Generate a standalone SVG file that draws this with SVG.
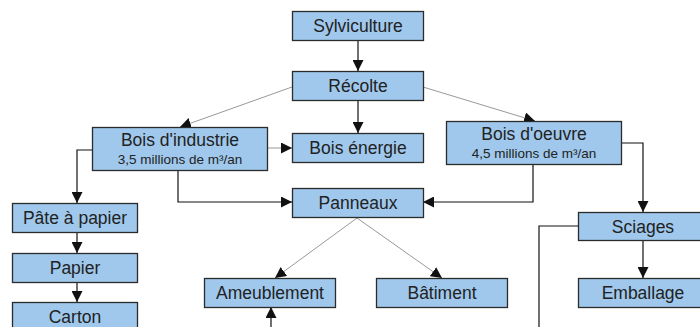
<svg xmlns="http://www.w3.org/2000/svg" width="700" height="327" viewBox="0 0 700 327">
<style>
.box{fill:#9fc8ec;stroke:#2b2b2b;stroke-width:1.3}
.t{font-family:"Liberation Sans",Arial,sans-serif;font-size:17.5px;fill:#222;text-anchor:middle}
.s{font-family:"Liberation Sans",Arial,sans-serif;font-size:13.5px;fill:#222;text-anchor:middle}
.k{fill:none;stroke:#111;stroke-width:1.2}
.g{fill:none;stroke:#999;stroke-width:1}
</style>
<defs>
<marker id="a" viewBox="0 0 10 10" refX="10" refY="5" markerWidth="11" markerHeight="11" markerUnits="userSpaceOnUse" orient="auto"><path d="M0,0 L10,5 L0,10 z" fill="#111"/></marker>
</defs>
<rect width="700" height="327" fill="#fff"/>
<g id="connectors">
<line class="k" x1="358" y1="40" x2="358" y2="71" marker-end="url(#a)"/>
<line class="k" x1="358" y1="100" x2="358" y2="133" marker-end="url(#a)"/>
<line class="g" x1="292" y1="87" x2="180" y2="127" marker-end="url(#a)"/>
<line class="g" x1="423" y1="87" x2="535" y2="121" marker-end="url(#a)"/>
<line class="g" x1="267" y1="148" x2="292" y2="148" marker-end="url(#a)"/>
<polyline class="k" points="178,170 178,202 292,202" marker-end="url(#a)"/>
<polyline class="k" points="533,165 533,202 423,202" marker-end="url(#a)"/>
<polyline class="k" points="92,150 77,150 77,203" marker-end="url(#a)"/>
<line class="k" x1="77" y1="232" x2="77" y2="253" marker-end="url(#a)"/>
<line class="k" x1="77" y1="282" x2="77" y2="302" marker-end="url(#a)"/>
<polyline class="k" points="621,143 643,143 643,212" marker-end="url(#a)"/>
<line class="k" x1="643" y1="240" x2="643" y2="278" marker-end="url(#a)"/>
<polyline class="k" points="578,226 539,226 539,327"/>
<line class="g" x1="357" y1="218" x2="275" y2="278" marker-end="url(#a)"/>
<line class="g" x1="357" y1="218" x2="442" y2="278" marker-end="url(#a)"/>
<line class="k" x1="271" y1="327" x2="271" y2="307" marker-end="url(#a)"/>
</g>
<g id="sylviculture"><rect class="box" x="292.5" y="11.5" width="131" height="29"/><text class="t" x="358" y="32">Sylviculture</text></g>
<g id="recolte"><rect class="box" x="292.5" y="71.5" width="131" height="29"/><text class="t" x="358" y="92">Récolte</text></g>
<g id="bois-industrie"><rect class="box" x="92.5" y="127.5" width="175" height="43"/><text class="t" x="180" y="146">Bois d'industrie</text><text class="s" x="180" y="163.5">3,5 millions de m³/an</text></g>
<g id="bois-energie"><rect class="box" x="292.5" y="133.5" width="131" height="29"/><text class="t" x="358" y="154">Bois énergie</text></g>
<g id="bois-oeuvre"><rect class="box" x="446.5" y="121.5" width="175" height="43"/><text class="t" x="534" y="140">Bois d'oeuvre</text><text class="s" x="534" y="157.5">4,5 millions de m³/an</text></g>
<g id="panneaux"><rect class="box" x="292.5" y="188.5" width="131" height="29"/><text class="t" x="358" y="209">Panneaux</text></g>
<g id="pate"><rect class="box" x="12.5" y="203.5" width="125" height="29"/><text class="t" x="75" y="224">Pâte à papier</text></g>
<g id="papier"><rect class="box" x="12.5" y="253.5" width="125" height="29"/><text class="t" x="75" y="274">Papier</text></g>
<g id="carton"><rect class="box" x="12.5" y="302.5" width="125" height="29"/><text class="t" x="75" y="323">Carton</text></g>
<g id="sciages"><rect class="box" x="578.5" y="212.5" width="130" height="28"/><text class="t" x="643" y="232.5">Sciages</text></g>
<g id="ameublement"><rect class="box" x="204.5" y="278.5" width="131" height="29"/><text class="t" x="270" y="299">Ameublement</text></g>
<g id="batiment"><rect class="box" x="376.5" y="278.5" width="131" height="29"/><text class="t" x="442" y="299">Bâtiment</text></g>
<g id="emballage"><rect class="box" x="578.5" y="278.5" width="130" height="29"/><text class="t" x="643" y="299">Emballage</text></g>
</svg>
